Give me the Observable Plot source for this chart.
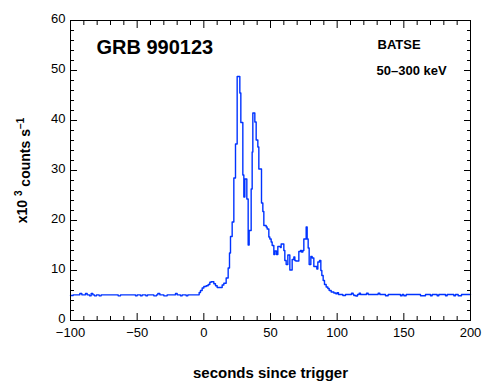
<!DOCTYPE html>
<html>
<head>
<meta charset="utf-8">
<script src="https://cdn.jsdelivr.net/npm/d3@7"></script>
<script src="https://cdn.jsdelivr.net/npm/@observablehq/plot@0.6"></script>
<style>
  html, body { margin: 0; padding: 0; background: #fff; }
  #chart { width: 490px; height: 390px; }
</style>
</head>
<body>
<div id="chart"></div>
<script>
// Bin start times (s since trigger) and count rates (x10^3 counts/s), step-after
const times = [
  -100, -98, -93, -91.5, -88.75, -87.5, -85.75, -84.5, -83.25, -82, -80.5, -78.5, -77,
  -64.25, -62.5, -51.25, -50, -47.5, -46.25, -43.5, -42.25, -37.5, -35.5, -34.5, -33,
  -30, -27.5, -21.25, -20, -17.5, -16.25, -13.25, -12,
  -3.5, -2.5, -1.25, 0, 1.75, 3.25, 4.5, 5.5, 7.5, 8.75, 10, 13.75, 15, 16.75,
  18.25, 19.25, 20, 21.25, 22.5, 23.75, 25, 27, 27.75, 29.25, 30, 30.75, 32.25,
  33.25, 34, 35.5, 36.25, 36.75, 38.25, 39.25, 40.5, 41.25, 43.25, 44.25, 45,
  46.75, 47.5, 48.75, 49.5, 50.5, 51.25, 52.5, 53.25, 54.5, 55.5, 57.5, 58,
  60, 60.75, 61.75, 63, 64.5, 66.25, 67.5, 68.25, 69, 71.25, 72.5, 73.25, 74.25,
  75, 76.75, 77.5, 78.25, 79, 80.25, 81.25, 82.5, 84.75, 85.5, 86.75, 87.75,
  88.5, 89.5, 90.5, 91.75, 93, 94, 95.5, 97.5, 99, 100, 101,
  104.25, 106.25, 110.75, 112, 112.5, 114, 115.25, 116.5, 117.5, 122, 123.25,
  130.75, 132, 136.25, 138.25, 147.5, 148.75, 150, 151.75, 162.5, 166.25,
  170, 171.25, 175, 176.25, 181.25, 182.5, 187.5, 188.75, 190.75, 193.25, 200
];
const rates = [
  5.0, 5.13, 5.4, 5.13, 5.4, 5.13, 4.93, 5.4, 5.13, 4.93, 5.13, 4.93, 5.13,
  4.93, 5.13, 4.93, 5.13, 4.93, 5.13, 4.93, 5.13, 4.93, 5.13, 5.4, 5.13,
  4.93, 5.13, 5.4, 5.13, 4.93, 5.13, 4.93, 5.13,
  5.6, 6.0, 6.5, 6.8, 6.95, 7.2, 7.65, 7.75, 7.35, 6.95, 6.6, 7.1, 7.45, 8.5,
  10.5, 13.5, 16.8, 19.7, 28.5, 35.3, 48.8, 45.5, 39.6, 29.1, 24.7, 28.3, 24.3,
  15.1, 18.0, 26.3, 33.7, 41.5, 39.7, 36.1, 34.7, 30.3, 23.5, 21.8, 19.0,
  18.7, 18.3, 16.7, 16.3, 15.7, 15.0, 13.2, 13.9, 13.2, 14.8, 14.6, 15.3,
  14.0, 12.0, 11.2, 13.1, 10.1, 12.2, 12.7, 12.0, 11.9, 13.8, 14.0, 13.7, 14.0,
  16.3, 18.7, 16.3, 14.5, 11.2, 12.8, 12.5, 10.8, 10.3, 11.7, 12.0, 10.0,
  9.0, 8.0, 7.2, 6.7, 6.4, 6.0, 5.7, 5.5, 5.35, 5.55, 5.2,
  5.0, 5.2, 5.45, 5.2, 5.0, 4.9, 5.2, 5.45, 5.2, 5.45, 5.2,
  5.45, 5.2, 4.95, 5.2, 4.95, 5.2, 4.95, 5.2, 4.95, 5.2,
  4.95, 5.2, 4.95, 5.2, 4.95, 5.2, 4.95, 5.2, 4.95, 5.2, 5.2
];

const xTicks = [-100, -50, 0, 50, 100, 150, 200];
const xMinorTicks = [-90, -80, -70, -60, -40, -30, -20, -10, 10, 20, 30, 40,
  60, 70, 80, 90, 110, 120, 130, 140, 160, 170, 180, 190];
const yTicks = [0, 10, 20, 30, 40, 50, 60];
const yMinorTicks = [2, 4, 6, 8, 12, 14, 16, 18, 22, 24, 26, 28, 32, 34, 36, 38,
  42, 44, 46, 48, 52, 54, 56, 58];

const titleText = "GRB 990123";
const instrumentText = "BATSE";
const bandText = "50–300 keV";
const xLabel = "seconds since trigger";
const yLabel = "x10 3 counts s −1";

const data = times.map((t, i) => ({ t, r: rates[i] }));
const font = "'Liberation Sans', Arial, Helvetica, sans-serif";
const blank = () => "";

const plot = Plot.plot({
  width: 490,
  height: 390,
  marginLeft: 70,
  marginRight: 20,
  marginTop: 20,
  marginBottom: 70,
  x: { domain: [-100, 200] },
  y: { domain: [0, 60] },
  style: { fontFamily: font, fontSize: "13px", color: "black", background: "white" },
  marks: [
    Plot.lineY(data, { x: "t", y: "r", curve: "step-after", stroke: "#0033ff", strokeWidth: 1.4 }),
    Plot.frame({ stroke: "black", strokeWidth: 1 }),
    // inward major/minor ticks on all four sides
    Plot.axisX(xTicks, { anchor: "bottom", tickSize: -7, tickFormat: blank, label: null }),
    Plot.axisX(xMinorTicks, { anchor: "bottom", tickSize: -4, tickFormat: blank, label: null }),
    Plot.axisX(xTicks, { anchor: "top", tickSize: -7, tickFormat: blank, label: null }),
    Plot.axisX(xMinorTicks, { anchor: "top", tickSize: -4, tickFormat: blank, label: null }),
    Plot.axisY(yTicks, { anchor: "left", tickSize: -7, tickFormat: blank, label: null }),
    Plot.axisY(yMinorTicks, { anchor: "left", tickSize: -4, tickFormat: blank, label: null }),
    Plot.axisY(yTicks, { anchor: "right", tickSize: -7, tickFormat: blank, label: null }),
    Plot.axisY(yMinorTicks, { anchor: "right", tickSize: -4, tickFormat: blank, label: null }),
    // tick labels
    Plot.axisX(xTicks, { anchor: "bottom", tickSize: 0, tickPadding: 7.5, label: null, fontSize: 13 }),
    Plot.axisY(yTicks, { anchor: "left", tickSize: 0, tickPadding: 5, dy: -2, label: null, fontSize: 13 }),
    // annotations
    Plot.text([titleText], { text: d => d, frameAnchor: "top-left", dx: 26, dy: 19, lineAnchor: "top", textAnchor: "start", fontSize: 20, fontWeight: "bold" }),
    Plot.text([instrumentText], { text: d => d, frameAnchor: "top-left", dx: 307, dy: 19.5, lineAnchor: "top", textAnchor: "start", fontSize: 13, fontWeight: "bold" }),
    Plot.text([bandText], { text: d => d, frameAnchor: "top-left", dx: 306, dy: 45.5, lineAnchor: "top", textAnchor: "start", fontSize: 13, fontWeight: "bold" }),
    Plot.text([xLabel], { text: d => d, frameAnchor: "bottom", dy: 47, lineAnchor: "top", textAnchor: "middle", fontSize: 15, fontWeight: "bold" }),
    Plot.text([yLabel], { text: d => d, frameAnchor: "left", dx: -47.5, rotate: -90, lineAnchor: "middle", textAnchor: "middle", fontSize: 14, fontWeight: "bold" })
  ]
});

document.getElementById("chart").appendChild(plot);

// Turn the y label into text with superscripts
d3.select(plot).selectAll("text").filter(function () { return this.textContent === yLabel; })
  .each(function () {
    const t = d3.select(this);
    t.text(null);
    t.append("tspan").text("x10 ");
    t.append("tspan").attr("dy", "-0.55em").attr("font-size", 10).text("3");
    t.append("tspan").attr("dy", "0.55em").text(" counts s");
    t.append("tspan").attr("dy", "-0.55em").attr("font-size", 10).text("−1");
  });
</script>
</body>
</html>
